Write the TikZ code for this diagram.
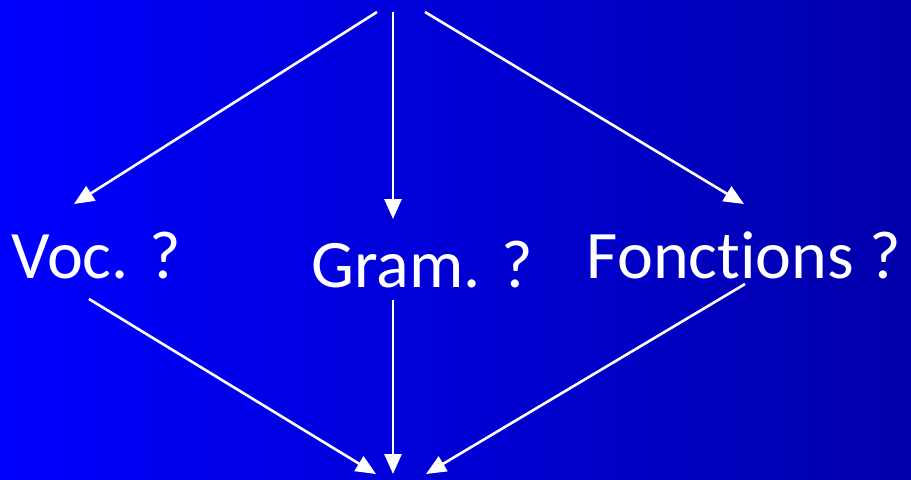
\documentclass[tikz,border=0pt]{standalone}
\usepackage{fontspec}
\setsansfont{Carlito}[Ligatures=NoCommon]
\usetikzlibrary{arrows.meta}
\definecolor{BgLeft}{RGB}{0,0,255}
\definecolor{BgRight}{RGB}{0,0,170}

\begin{document}
\begin{tikzpicture}[x=0.5pt,y=-0.5pt,
        lbl/.style={text=white,font=\sffamily\fontsize{34}{40}\selectfont,
                    anchor=base,inner sep=0pt},
        arr/.style={white,line width=1.3pt,-{Triangle[length=10pt,width=8.5pt]}}
      ]
        \shade[left color=BgLeft,right color=BgRight] (0,0) rectangle (911,479);
        \useasboundingbox (0,0) rectangle (911,479);
        % labels
        \node[lbl] (voc) at (96,278) {Voc. ?};
        \node[lbl] (gram) at (422,287) {Gram. ?};
        \node[lbl] (fonc) at (744,278) {Fonctions ?};
        % free ends
        \coordinate (s1) at (377,12);
        \coordinate (s2) at (393,12);
        \coordinate (s3) at (425,12);
        \coordinate (t1) at (74,204);
        \coordinate (t2) at (393,219);
        \coordinate (t3) at (744,204);
        \coordinate (b1) at (89,299);
        \coordinate (b2) at (393,300);
        \coordinate (b3) at (745,284);
        \coordinate (e1) at (376,474);
        \coordinate (e2) at (393,474);
        \coordinate (e3) at (426,474);
        \draw[arr] (s1) -- (t1);
        \draw[arr] (s2) -- (t2);
        \draw[arr] (s3) -- (t3);
        \draw[arr] (b1) -- (e1);
        \draw[arr] (b2) -- (e2);
        \draw[arr] (b3) -- (e3);
      \end{tikzpicture}
\end{document}
